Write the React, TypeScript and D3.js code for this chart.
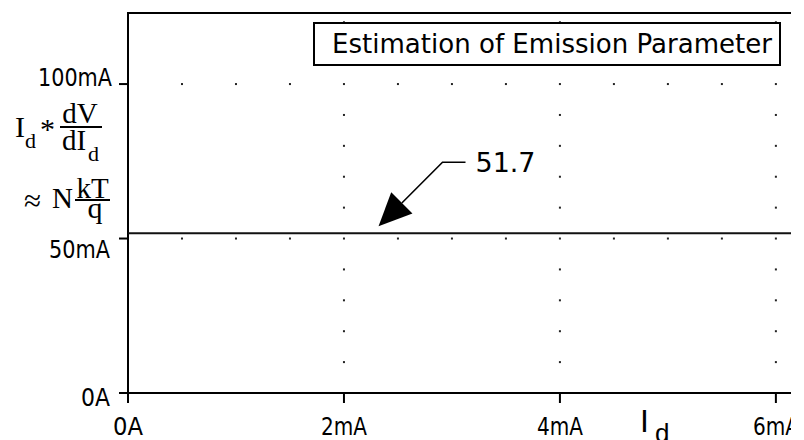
import React from "react";
import * as d3 from "d3";

// Diode current axis (mA) and the measured Id*dV/dId curve (mA-equivalent units)
const currentMA = [0, 6.14];
const emissionMA = [51.7, 51.7];

const xTicks = [0, 2, 4, 6];
const xTickLabels = ["0A", "2mA", "4mA", "6mA"];
const yTicks = [0, 50, 100];
const yTickLabels = ["0A", "50mA", "100mA"];

const titleText = "Estimation of Emission Parameter";
const markerLabel = "51.7";
const markerAtMA = 2.32;

const W = 804;
const H = 440;
const LEFT = 128;
const RIGHT = 791;
const TOP = 13;
const BOTTOM = 393;

const tickFont = "'DejaVu Sans', sans-serif";
const serif = "'Liberation Serif', 'DejaVu Serif', serif";

export default function App() {
  const x = d3.scaleLinear().domain([0, 6.14]).range([LEFT, RIGHT]);
  const y = d3.scaleLinear().domain([0, 123]).range([BOTTOM, TOP]);

  const line = d3
    .line<number>()
    .x((_, i) => x(currentMA[i]))
    .y((d) => y(d));

  // dotted grid: rows at the labelled levels, columns at the labelled currents
  const dots: [number, number][] = [];
  [50, 100].forEach((lv) => {
    d3.range(0.5, 6.01, 0.5).forEach((c) => dots.push([x(c), y(lv)]));
  });
  [2, 4, 6].forEach((c) => {
    d3.range(10, 121, 10).forEach((lv) => {
      if (lv !== 50 && lv !== 100) dots.push([x(c), y(lv)]);
    });
  });

  // y-tick label placement (right edge, baseline offset, width)
  const yLabelStyle: Record<number, { right: number; dy: number; w: number }> = {
    0: { right: 110, dy: 13, w: 29 },
    50: { right: 110, dy: 19, w: 61 },
    100: { right: 112, dy: 2, w: 74 },
  };
  const xLabelW: Record<number, number> = { 0: 30, 2: 46, 4: 46, 6: 46 };

  // annotation arrow pointing at the curve
  const tipX = x(markerAtMA);
  const tipY = y(emissionMA[0]) - 7;
  const elbowX = tipX + 64;
  const elbowY = tipY - 64;
  const ang = Math.atan2(tipY - elbowY, tipX - elbowX);
  const headLen = 33;
  const headHalf = 15;
  const bx = tipX - headLen * Math.cos(ang);
  const by = tipY - headLen * Math.sin(ang);
  const px = -Math.sin(ang);
  const py = Math.cos(ang);
  const head = `M${tipX},${tipY}L${bx + px * headHalf},${by + py * headHalf}L${bx - px * headHalf},${by - py * headHalf}Z`;

  return (
    <svg
      width={W}
      height={H}
      style={{ position: "absolute", left: 0, top: 0, background: "#fff" }}
    >
      <defs>
        <clipPath id="frameClip">
          <rect x={0} y={0} width={RIGHT} height={H} />
        </clipPath>
      </defs>
      <g clipPath="url(#frameClip)">
        {/* grid dots */}
        {dots.map(([cx, cy], i) => (
          <rect key={i} x={cx - 1} y={cy - 1} width={2} height={2} fill="#222" />
        ))}

        {/* title box */}
        <rect x={314} y={23} width={466} height={42} fill="#fff" stroke="#000" strokeWidth={2} />
        <text
          x={332}
          y={53}
          fontFamily={tickFont}
          fontSize={27}
          textLength={440}
          lengthAdjust="spacingAndGlyphs"
          fill="#000"
        >
          {titleText}
        </text>

        {/* frame */}
        <line x1={LEFT} x2={RIGHT} y1={TOP} y2={TOP} stroke="#000" strokeWidth={2} />
        <line x1={LEFT} x2={LEFT} y1={TOP - 1} y2={BOTTOM + 10} stroke="#000" strokeWidth={2} />
        <line x1={LEFT - 9} x2={RIGHT} y1={BOTTOM} y2={BOTTOM} stroke="#000" strokeWidth={2} />

        {/* y ticks */}
        {yTicks.map((t, i) => {
          const s = yLabelStyle[t];
          return (
            <g key={t}>
              <line x1={LEFT - 9} x2={LEFT} y1={y(t)} y2={y(t)} stroke="#000" strokeWidth={2} />
              <text
                x={s.right - s.w}
                y={y(t) + s.dy}
                fontFamily={tickFont}
                fontSize={25}
                textLength={s.w}
                lengthAdjust="spacingAndGlyphs"
                fill="#000"
              >
                {yTickLabels[i]}
              </text>
            </g>
          );
        })}

        {/* x ticks */}
        {xTicks.map((t, i) => {
          const w = xLabelW[t];
          return (
            <g key={t}>
              <line x1={x(t)} x2={x(t)} y1={BOTTOM} y2={BOTTOM + 10} stroke="#000" strokeWidth={2} />
              <text
                x={x(t) - w / 2}
                y={435}
                fontFamily={tickFont}
                fontSize={24}
                textLength={w}
                lengthAdjust="spacingAndGlyphs"
                fill="#000"
              >
                {xTickLabels[i]}
              </text>
            </g>
          );
        })}

        {/* curve */}
        <path d={line(emissionMA) ?? ""} fill="none" stroke="#111" strokeWidth={2} />

        {/* annotation */}
        <path
          d={`M${elbowX + 23},${elbowY}L${elbowX},${elbowY}L${bx},${by}`}
          fill="none"
          stroke="#000"
          strokeWidth={1.6}
        />
        <path d={head} fill="#000" />
        <text
          x={elbowX + 33}
          y={elbowY + 10}
          fontFamily={tickFont}
          fontSize={27}
          textLength={60}
          lengthAdjust="spacingAndGlyphs"
          fill="#000"
        >
          {markerLabel}
        </text>

        {/* x axis title */}
        <text x={640} y={432} fontFamily="'Liberation Sans', sans-serif" fontSize={32} fill="#000">
          I
        </text>
        <text x={655} y={442} fontFamily="'Liberation Sans', sans-serif" fontSize={26} fill="#000">
          d
        </text>
      </g>

      {/* y axis title: Id * dV/dId ≈ N kT/q */}
      <g fontFamily={serif} fill="#000">
        <text x={15} y={137} fontSize={30}>I</text>
        <text x={25} y={148} fontSize={22}>d</text>
        <text x={40} y={139} fontSize={30}>*</text>
        <text x={80} y={123} fontSize={29} textAnchor="middle">dV</text>
        <line x1={60} x2={102} y1={127} y2={127} stroke="#000" strokeWidth={2} />
        <text x={62} y={150} fontSize={29}>dI</text>
        <text x={88} y={161} fontSize={22}>d</text>

        <text x={24} y={211} fontSize={31}>≈</text>
        <text x={52} y={208} fontSize={29}>N</text>
        <text x={92.5} y={198} fontSize={29} textAnchor="middle">kT</text>
        <line x1={75} x2={110} y1={200} y2={200} stroke="#000" strokeWidth={2} />
        <text x={95} y={218} fontSize={30} textAnchor="middle">q</text>
      </g>
    </svg>
  );
}
